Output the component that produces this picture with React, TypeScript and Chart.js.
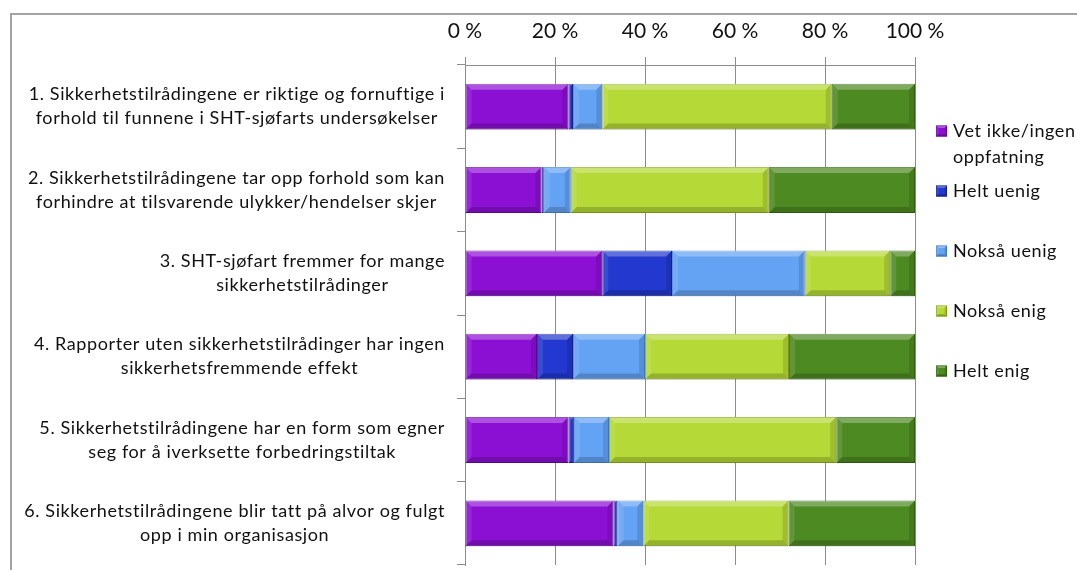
import React, { useEffect, useRef } from "react";
import { Chart, registerables } from "chart.js";

Chart.register(...registerables);

const categories: string[][] = [
  ["1. Sikkerhetstilrådingene er riktige og fornuftige i", "forhold til funnene i SHT-sjøfarts undersøkelser"],
  ["2. Sikkerhetstilrådingene tar opp forhold som kan", "forhindre at tilsvarende ulykker/hendelser skjer"],
  ["3. SHT-sjøfart fremmer for mange", "sikkerhetstilrådinger"],
  ["4. Rapporter uten sikkerhetstilrådinger har ingen", "sikkerhetsfremmende effekt"],
  ["5. Sikkerhetstilrådingene har en form som egner", "seg for å iverksette forbedringstiltak"],
  ["6. Sikkerhetstilrådingene blir tatt på alvor og fulgt", "opp i min organisasjon"],
];

const seriesNames = ["Vet ikke/ingen oppfatning", "Helt uenig", "Nokså uenig", "Nokså enig", "Helt enig"];

const vetIkke = [23, 17, 30.5, 16, 23, 33];
const heltUenig = [1, 0.5, 15.5, 8, 1.2, 0.9];
const noksaUenig = [6.5, 6, 29.5, 16, 7.8, 5.7];
const noksaEnig = [51, 44, 19, 32, 50.5, 32.3];
const heltEnig = [18.5, 32.5, 5.5, 28, 17.5, 28.1];

const tickLabels = ["0 %", "20 %", "40 %", "60 %", "80 %", "100 %"];

const seriesColors = ["#8C0FD4", "#2238CE", "#64A3F4", "#B5D936", "#4E8A22"];
const seriesBorders = ["#6A0AA6", "#18289A", "#4C86D0", "#8EAE24", "#386A16"];

const FONT = "Lato, 'Open Sans', sans-serif";

function bevel(ctx: CanvasRenderingContext2D, l: number, t: number, r: number, b: number, size: number) {
  const s = Math.max(0, Math.min(size, (r - l) / 2, (b - t) / 2));
  if (s <= 0) return;
  const poly = (pts: number[][], fill: string) => {
    ctx.beginPath();
    ctx.moveTo(pts[0][0], pts[0][1]);
    for (let i = 1; i < pts.length; i++) ctx.lineTo(pts[i][0], pts[i][1]);
    ctx.closePath();
    ctx.fillStyle = fill;
    ctx.fill();
  };
  poly([[l, t], [r, t], [r - s, t + s], [l + s, t + s]], "rgba(255,255,255,0.28)");
  poly([[l, t], [l + s, t + s], [l + s, b - s], [l, b]], "rgba(255,255,255,0.10)");
  poly([[l, b], [r, b], [r - s, b - s], [l + s, b - s]], "rgba(0,0,0,0.18)");
  poly([[r, t], [r, b], [r - s, b - s], [r - s, t + s]], "rgba(0,0,0,0.12)");
}

const bevelPlugin = {
  id: "bevelBars",
  afterDatasetsDraw(chart: any) {
    const ctx = chart.ctx as CanvasRenderingContext2D;
    ctx.save();
    chart.data.datasets.forEach((_ds: any, di: number) => {
      const meta = chart.getDatasetMeta(di);
      meta.data.forEach((el: any) => {
        const l = Math.min(el.x, el.base);
        const r = Math.max(el.x, el.base);
        const t = el.y - el.height / 2;
        const b = el.y + el.height / 2;
        bevel(ctx, l, t, r, b, 6);
      });
    });
    ctx.restore();
  },
};

const yLabelPlugin = {
  id: "yLabels",
  afterDraw(chart: any) {
    const ctx = chart.ctx as CanvasRenderingContext2D;
    const ys = chart.scales.y;
    ctx.save();
    ctx.font = `18px ${FONT}`;
    (ctx as any).letterSpacing = "0.6px";
    ctx.fillStyle = "#111";
    ctx.textAlign = "center";
    ctx.textBaseline = "middle";
    const right = ys.right - 20;
    const lh = 24;
    (chart.data.labels as string[][]).forEach((lines, i) => {
      const cy = ys.getPixelForValue(i);
      const w = Math.max(...lines.map((ln) => ctx.measureText(ln).width));
      const cx = right - w / 2;
      lines.forEach((ln, k) => {
        ctx.fillText(ln, cx, cy + (k - (lines.length - 1) / 2) * lh);
      });
    });
    ctx.restore();
  },
};

const legendPlugin = {
  id: "customLegend",
  afterDraw(chart: any) {
    const ctx = chart.ctx as CanvasRenderingContext2D;
    ctx.save();
    ctx.font = `18px ${FONT}`;
    (ctx as any).letterSpacing = "0.6px";
    ctx.textBaseline = "middle";
    ctx.textAlign = "left";
    const x0 = chart.chartArea.right + 21;
    const maxW = chart.width - x0 - 17;
    let y = 131;
    chart.data.datasets.forEach((ds: any) => {
      const words = String(ds.label).split(" ");
      const lines: string[] = [];
      let cur = "";
      words.forEach((w) => {
        const test = cur ? cur + " " + w : w;
        if (cur && ctx.measureText(test).width > maxW) {
          lines.push(cur);
          cur = w;
        } else cur = test;
      });
      if (cur) lines.push(cur);
      ctx.fillStyle = ds.backgroundColor;
      ctx.fillRect(x0, y - 5.5, 11, 11);
      ctx.strokeStyle = ds.borderColor;
      ctx.lineWidth = 1;
      ctx.strokeRect(x0 + 0.5, y - 5, 10, 10);
      bevel(ctx, x0, y - 5.5, x0 + 11, y + 5.5, 2.5);
      ctx.fillStyle = "#111";
      lines.forEach((ln, k) => ctx.fillText(ln, x0 + 17, y + k * 26));
      y += 60;
    });
    ctx.restore();
  },
};

export default function App() {
  const canvasRef = useRef<HTMLCanvasElement | null>(null);

  useEffect(() => {
    document.body.style.margin = "0";
    const canvas = canvasRef.current;
    if (!canvas) return;
    const series = [vetIkke, heltUenig, noksaUenig, noksaEnig, heltEnig];
    const chart = new Chart(canvas, {
      type: "bar",
      data: {
        labels: categories,
        datasets: series.map((vals, i) => ({
          label: seriesNames[i],
          data: vals,
          backgroundColor: seriesColors[i],
          borderColor: seriesBorders[i],
          borderWidth: 1,
          borderSkipped: false,
          barPercentage: 0.55,
          categoryPercentage: 1,
        })),
      },
      options: {
        animation: false,
        responsive: true,
        maintainAspectRatio: false,
        indexAxis: "y",
        layout: { padding: { left: 0, top: 0, right: 162, bottom: 5 } },
        plugins: {
          legend: { display: false },
          tooltip: { enabled: false },
          title: { display: false },
        },
        scales: {
          x: {
            position: "top",
            stacked: true,
            min: 0,
            max: 100,
            ticks: {
              stepSize: 20,
              padding: 13,
              color: "#111",
              font: { family: FONT, size: 21 },
              callback: (v: any) => tickLabels[Math.round(Number(v) / 20)],
            },
            grid: { color: "#8c8c8c", lineWidth: 1, tickLength: 8 },
            border: { display: true, color: "#8c8c8c" },
            afterFit: (s: any) => {
              s.height = 65;
            },
          },
          y: {
            stacked: true,
            ticks: { display: false },
            grid: { drawOnChartArea: false, color: "#8c8c8c", tickLength: 8, offset: true },
            border: { display: true, color: "#8c8c8c" },
            afterFit: (s: any) => {
              s.width = 465;
            },
          },
        },
      } as any,
      plugins: [bevelPlugin, yLabelPlugin, legendPlugin],
    });
    return () => chart.destroy();
  }, []);

  return (
    <div style={{ position: "relative", width: 1077, height: 570, overflow: "hidden", background: "#fff" }}>
      <canvas ref={canvasRef} style={{ position: "absolute", left: 0, top: 0 }} />
      <div
        style={{
          position: "absolute",
          left: 10,
          top: 13,
          width: 1100,
          height: 600,
          borderLeft: "2px solid #a3a3a3",
          borderTop: "2px solid #a3a3a3",
          pointerEvents: "none",
        }}
      />
    </div>
  );
}
